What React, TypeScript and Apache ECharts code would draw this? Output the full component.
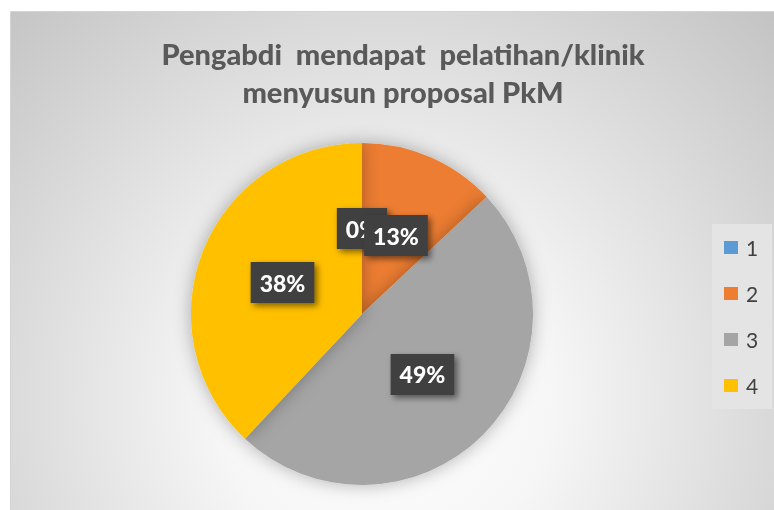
import React, { useEffect, useRef } from "react";
import * as echarts from "echarts";

const categories = ["1", "2", "3", "4"];
const values = [0, 13, 49, 38];
const colors = ["#5B9BD5", "#ED7D31", "#A5A5A5", "#FFC000"];
const titleLines = ["Pengabdi  mendapat  pelatihan/klinik", "menyusun proposal PkM"];

const labelStyle = {
  fontFamily: "Lato",
  fontWeight: 900,
  fontSize: 23,
  lineHeight: 22,
  fill: "#ffffff",
  backgroundColor: "#404040",
  padding: [10, 9, 9, 9],
  shadowBlur: 6,
  shadowOffsetX: 3,
  shadowOffsetY: 3,
  shadowColor: "rgba(0,0,0,0.5)",
  align: "center",
  verticalAlign: "middle",
};

export default function App() {
  const ref = useRef<HTMLDivElement>(null);
  useEffect(() => {
    if (!ref.current) return;
    const chart = echarts.init(ref.current, null, { renderer: "svg" });
    const background = {
      type: "rect",
      z: -10,
      silent: true,
      shape: { x: 10.5, y: 11.5, width: 770, height: 505 },
      style: {
        fill: {
          type: "radial",
          x: 385,
          y: 400,
          r: 560,
          global: true,
          colorStops: [
            { offset: 0, color: "#ffffff" },
            { offset: 0.3, color: "#f6f6f6" },
            { offset: 1, color: "#c2c2c2" },
          ],
        },
        stroke: "#d4d4d4",
        lineWidth: 1,
      },
    };
    chart.setOption({
      animation: false,
      color: colors,
      graphic: [background],
      title: {
        text: titleLines.join("\n"),
        left: 398,
        top: 29,
        textAlign: "center",
        textStyle: {
          fontFamily: "Lato",
          fontWeight: 900,
          fontSize: 29,
          lineHeight: 38,
          color: "#595959",
        },
      },
      legend: {
        orient: "vertical",
        left: 712,
        top: 224,
        padding: [13, 14, 13, 12],
        backgroundColor: "#e4e4e4",
        itemWidth: 14,
        itemHeight: 13,
        itemGap: 25,
        icon: "rect",
        data: categories,
        textStyle: {
          fontFamily: "Lato",
          fontSize: 21,
          lineHeight: 20,
          color: "#404040",
          padding: [0, 0, 0, 3],
        },
      },
      series: [
        {
          type: "pie",
          center: [362, 314],
          radius: 171,
          startAngle: 90,
          clockwise: true,
          avoidLabelOverlap: false,
          itemStyle: {
            shadowBlur: 18,
            shadowColor: "rgba(0,0,0,0.3)",
          },
          label: { show: false },
          labelLine: { show: false },
          emphasis: { disabled: true },
          data: categories.map((c, i) => ({ name: c, value: values[i] })),
        },
      ],
    });

    // Percentage labels placed at the library's own sector layout (inside, mid-radius)
    try {
      const data = (chart as any).getModel().getSeriesByIndex(0).getData();
      const total = values.reduce((a, b) => a + b, 0);
      const labels: any[] = [];
      for (let i = 0; i < values.length; i++) {
        const lay = data.getItemLayout(i);
        if (!lay) continue;
        const mid = (lay.startAngle + lay.endAngle) / 2;
        const rr = ((lay.r || 0) + (lay.r0 || 0)) / 2;
        labels.push({
          type: "text",
          z: 10,
          silent: true,
          x: lay.cx + rr * Math.cos(mid),
          y: lay.cy + rr * Math.sin(mid),
          style: { ...labelStyle, text: Math.round((values[i] / total) * 100) + "%" },
        });
      }
      chart.setOption({ graphic: [background, ...labels] }, { replaceMerge: ["graphic"] });
    } catch (e) {
      // ignore
    }
    return () => chart.dispose();
  }, []);
  return (
    <div
      ref={ref}
      style={{ position: "fixed", left: 0, top: 0, width: 774, height: 510 }}
    />
  );
}
